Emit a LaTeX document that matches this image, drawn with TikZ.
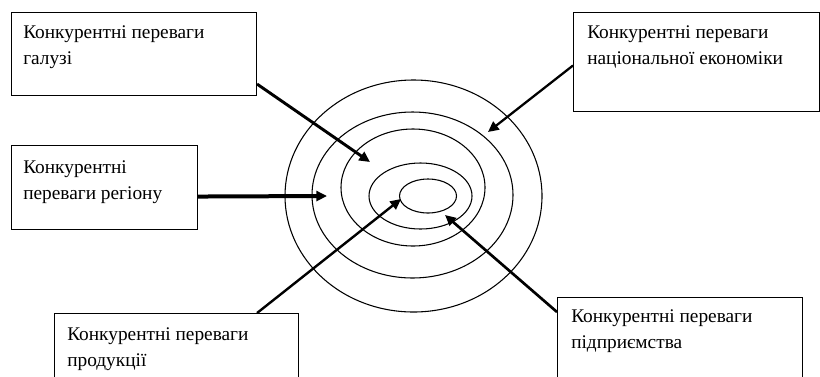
\documentclass[tikz,border=0pt]{standalone}
\usepackage{fontspec}
\newfontfamily\tnr{LiberationSerif-Regular.ttf}
\usetikzlibrary{arrows.meta,shapes.geometric}
\begin{document}
\begin{tikzpicture}[x=0.75pt,y=-0.75pt,
  box/.style={draw,line width=0.8pt,rectangle,inner sep=0pt,anchor=north west},
  lbl/.style={anchor=base west,inner sep=0pt,font=\tnr\fontsize{14.5}{19.5}\selectfont},
  ring/.style={draw,ellipse,line width=0.8pt,inner sep=0pt},
  arr/.style={line width=2.2pt,-{Triangle[length=8pt,width=7.5pt]}}]
\useasboundingbox (0,0) rectangle (820,376);
\clip (0,0) rectangle (820,376);
% rings
\node[ring,minimum width=192.75pt,minimum height=174pt] (e5) at (413.5,196) {};
\node[ring,minimum width=150.75pt,minimum height=124.5pt] (e4) at (412.5,195) {};
\node[ring,minimum width=108pt,minimum height=87.75pt] (e3) at (413,187.5) {};
\node[ring,minimum width=77.25pt,minimum height=49.5pt] (e2) at (420.5,196) {};
\node[ring,minimum width=42.75pt,minimum height=25.5pt] (e1) at (428,196) {};
% boxes
\node[box,minimum width=183.75pt,minimum height=62.25pt] (b1) at (11,12) {};
\node[box,minimum width=184.5pt,minimum height=74.25pt] (b2) at (573,12) {};
\node[box,minimum width=139.5pt,minimum height=63pt] (b3) at (11,145) {};
\node[box,minimum width=183pt,minimum height=60pt] (b4) at (54,313) {};
\node[box,minimum width=183.75pt,minimum height=67.5pt] (b5) at (557,297) {};
% labels
\node[lbl] (t1) at (23,38) {\parbox[t]{200pt}{Конкурентні переваги\\галузі}};
\node[lbl] (t2) at (587,38) {\parbox[t]{200pt}{Конкурентні переваги\\національної економіки}};
\node[lbl] (t3) at (23,173) {\parbox[t]{200pt}{Конкурентні\\переваги регіону}};
\node[lbl] (t4) at (67,340) {\parbox[t]{200pt}{Конкурентні переваги\\продукції}};
\node[lbl] (t5) at (571,322) {\parbox[t]{200pt}{Конкурентні переваги\\підприємства}};
% arrow targets
\coordinate (p1) at (370,162);
\coordinate (p2) at (488,132);
\coordinate (p3) at (327,196);
\coordinate (p4) at (401,199);
\coordinate (p5) at (445,215);
% arrows
\draw[arr] ([yshift=9pt]b1.south east) -- (p1);
\draw[arr,line width=1.7pt] ([yshift=-2.6pt]b2.west) -- (p2);
\draw[arr,line width=3pt] ([yshift=-6.75pt]b3.east) -- (p3);
\draw[arr,line width=1.8pt] ([xshift=-31.5pt]b4.north east) -- (p4);
\draw[arr,line width=2pt] ([yshift=-11.25pt]b5.north west) -- (p5);
\end{tikzpicture}
\end{document}
